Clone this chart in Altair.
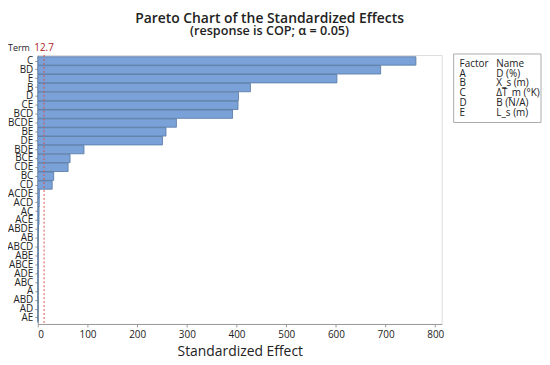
import altair as alt
import pandas as pd

terms = ["C", "BD", "E", "B", "D", "CE", "BCD", "BCDE", "BE", "DE", "BDE", "BCE", "CDE",
         "BC", "CD", "ACDE", "ACD", "AC", "ACE", "ABDE", "AB", "ABCD", "ABE", "ABCE",
         "ADE", "ABC", "A", "ABD", "AD", "AE"]
effects = [761, 690, 602, 428, 404, 403, 392, 279, 258, 251, 93, 65, 61,
           32, 29, 3.2, 3.0, 2.6, 2.5, 1.2, 0.9, 0.8, 0.7, 0.7,
           0.6, 0.6, 0.5, 0.5, 0.5, 0.4]
ref_value = 12.7
factor_codes = ["A", "B", "C", "D", "E"]
factor_names = ["D (%)", "X_s (m)", "ΔT_m (°K)", "B (N/A)", "L_s (m)"]
x_ticks = [0, 100, 200, 300, 400, 500, 600, 700, 800]

FONT = "Open Sans"
df = pd.DataFrame({"term": terms, "effect": effects})
df_ref = pd.DataFrame({"ref": [ref_value]})

xscale = alt.Scale(domain=[0, 813], nice=False, zero=True)

bars = alt.Chart(df).mark_bar(
    color="#7AA2D8", stroke="#56779F", strokeWidth=0.8
).encode(
    x=alt.X("effect:Q", scale=xscale,
            axis=alt.Axis(values=x_ticks, title="Standardized Effect", grid=False,
                          labelFontSize=10, labelColor="#222", labelFont=FONT,
                          tickSize=3, tickColor="#999", domainColor="#999",
                          titleFontSize=14, titleFontWeight="normal", titleFont=FONT,
                          titleColor="#222", titlePadding=5, labelPadding=3)),
    y=alt.Y("term:N", sort=terms,
            scale=alt.Scale(paddingInner=0.05, paddingOuter=0.2),
            axis=alt.Axis(title=None, labelFontSize=10, labelColor="#222", labelFont=FONT,
                          tickSize=3, tickColor="#999", domainColor="#999",
                          labelPadding=2)),
)

rule = alt.Chart(df_ref).mark_rule(color="#D9534F", strokeDash=[2, 2], strokeWidth=1).encode(
    x=alt.X("ref:Q", scale=xscale)
)

ref_label = alt.Chart(df_ref).mark_text(
    color="#B22222", fontSize=10, font=FONT, baseline="middle", align="center"
).encode(
    x=alt.X("ref:Q", scale=xscale), y=alt.value(-7), text=alt.Text("ref:Q", format=".1f")
)

term_label = alt.Chart(df_ref).mark_text(
    text="Term", fontSize=9, font=FONT, color="#222", align="right", baseline="middle"
).encode(x=alt.value(-8), y=alt.value(-7))

legend_box = alt.Chart(df_ref).mark_rect(
    fill="white", stroke="#AAAAAA", strokeWidth=1
).encode(x=alt.value(419), x2=alt.value(507), y=alt.value(-1), y2=alt.value(68))

legend_codes = alt.Chart(df_ref).mark_text(
    text=["Factor"] + factor_codes, fontSize=10, font=FONT, color="#222",
    align="left", baseline="top", lineHeight=9.8
).encode(x=alt.value(425), y=alt.value(4))

legend_names = alt.Chart(df_ref).mark_text(
    text=["Name"] + factor_names, fontSize=10, font=FONT, color="#222",
    align="left", baseline="top", lineHeight=9.8
).encode(x=alt.value(462), y=alt.value(4))

chart = alt.layer(bars, rule, ref_label, term_label, legend_box, legend_codes, legend_names).properties(
    width=407, height=271,
    title=alt.TitleParams(
        text="Pareto Chart of the Standardized Effects",
        subtitle="(response is COP; α = 0.05)",
        font=FONT, fontSize=14, fontWeight=600, color="#222",
        subtitleFont=FONT, subtitleFontSize=12.7, subtitleColor="#222",
        subtitleFontWeight=600,
        anchor="middle", dx=30, offset=5, subtitlePadding=0
    ),
    autosize=alt.AutoSizeParams(type="none"),
    padding={"left": 30, "top": 46, "right": 101, "bottom": 38},
).configure_view(stroke="#C8C8C8", strokeWidth=1).configure(background="white")

chart.save("out.html", embed_options={"renderer": "svg", "actions": False})
